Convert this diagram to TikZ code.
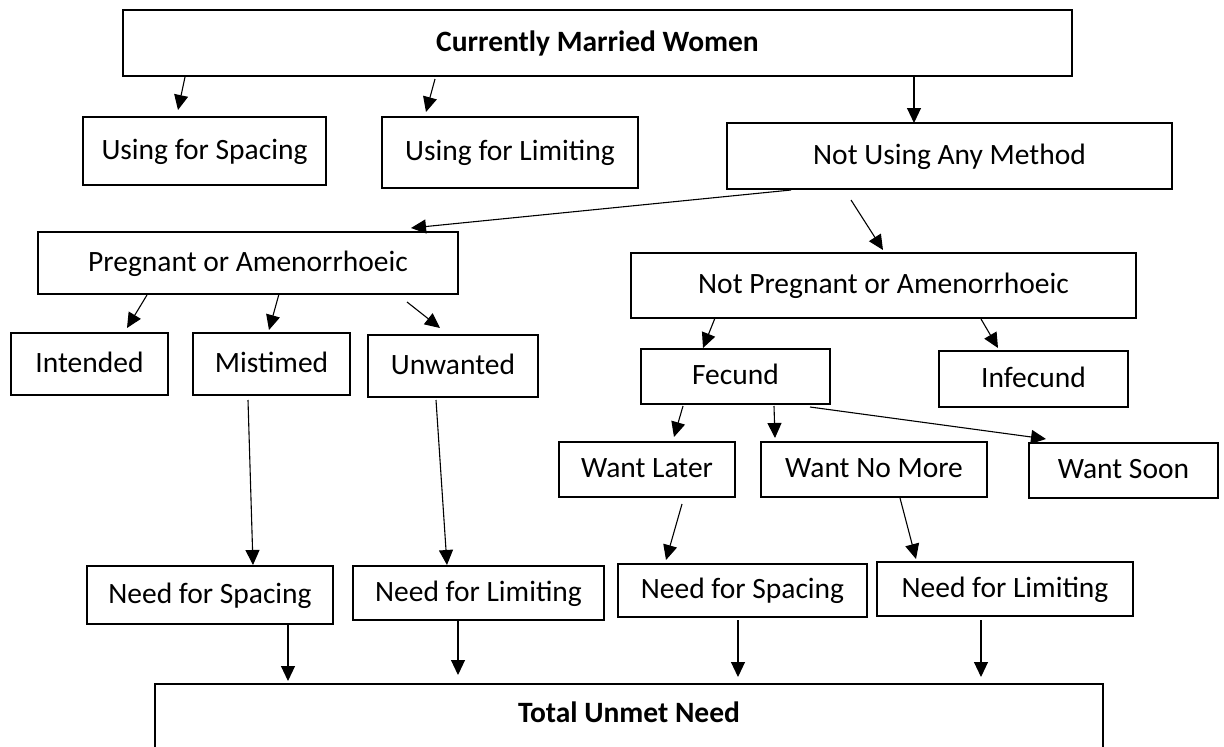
\documentclass[tikz,border=0pt]{standalone}
\usepackage{fontspec}
\setmainfont{Carlito}
\usetikzlibrary{arrows.meta}
\begin{document}
\begin{tikzpicture}[x=1pt,y=-1pt,
  bx/.style={draw=black, line width=1.2pt, rectangle, inner sep=0pt, outer sep=0pt,
    font=\fontsize{29.5}{35}\selectfont, text height=22pt, text depth=6pt},
  bxthick/.style={bx, line width=2.4pt},
  sz/.style 2 args={minimum width=#1pt, minimum height=#2pt},
  arr/.style={draw=black, line width=1.1pt, -{Triangle[length=15pt,width=14pt]}}]
\useasboundingbox (0,0) rectangle (1224,747);
\clip (0,0) rectangle (1224,747);

% nodes
\node[bx, sz={949}{66}] (top) at (597.5,43) {\bfseries Currently Married Women};
\node[bx, sz={243}{68}] (usp) at (204.5,151) {Using for Spacing};
\node[bx, sz={256}{71}] (ulim) at (510,152.5) {Using for Limiting};
\node[bx, sz={445}{66}] (notuse) at (949.5,156) {Not Using Any Method};
\node[bx, sz={420}{62}] (preg) at (248,263) {Pregnant or Amenorrhoeic};
\node[bx, sz={505}{65}] (notpreg) at (883.5,285.5) {Not Pregnant or Amenorrhoeic};
\node[bx, sz={157}{62}] (intended) at (89.5,364) {Intended};
\node[bx, sz={157}{62}] (mistimed) at (271.5,364) {Mistimed};
\node[bx, sz={170}{62}] (unwanted) at (453,366) {Unwanted};
\node[bxthick, sz={189}{55}] (fecund) at (735.5,376.5) {Fecund};
\node[bxthick, sz={189}{56}] (infecund) at (1033.5,379) {Infecund};
\node[bxthick, sz={176}{55}] (wlater) at (647,469.5) {Want Later};
\node[bxthick, sz={226}{55}] (wnomore) at (874,469.5) {Want No More};
\node[bxthick, sz={189}{55}] (wsoon) at (1123.5,470.5) {Want Soon};
\node[bx, sz={246}{58}] (nsl) at (210,595) {Need for Spacing};
\node[bx, sz={251}{54}] (nll) at (478.5,593) {Need for Limiting};
\node[bx, sz={249}{53}] (nsr) at (742.5,590.5) {Need for Spacing};
\node[bx, sz={256}{54}] (nlr) at (1005,589) {Need for Limiting};
\node[bx, sz={948}{80}] (total) at (629,724) {\raisebox{10pt}[\height][\depth]{\bfseries Total Unmet Need}};

% connectors
\draw[arr] ([shift={(62,1)}]top.south west) -- ([shift={(95,-7)}]usp.north west);
\draw[arr] ([shift={(312,3)}]top.south west) -- ([shift={(44,-5)}]ulim.north west);
\draw[arr] ([shift={(791,0)}]top.south west) -- ([shift={(187,0)}]notuse.north west);
\draw[arr] ([shift={(64,1)}]notuse.south west) -- ([shift={(373,-4)}]preg.north west);
\draw[arr] ([shift={(124,11)}]notuse.south west) -- ([shift={(252,-3)}]notpreg.north west);
\draw[arr] ([shift={(109,1)}]preg.south west) -- ([shift={(116,-5)}]intended.north west);
\draw[arr] ([shift={(241,0)}]preg.south west) -- ([shift={(76,-3)}]mistimed.north west);
\draw[arr] ([shift={(369,8)}]preg.south west) -- ([shift={(72,-7)}]unwanted.north west);
\draw[arr] ([shift={(84,0)}]notpreg.south west) -- ([shift={(62,-1)}]fecund.north west);
\draw[arr] ([shift={(350,1)}]notpreg.south west) -- ([shift={(59,-3)}]infecund.north west);
\draw[arr] ([shift={(42,2)}]fecund.south west) -- ([shift={(115,-5)}]wlater.north west);
\draw[arr] ([shift={(133,2)}]fecund.south west) -- ([shift={(14,-4)}]wnomore.north west);
\draw[arr] ([shift={(169,3)}]fecund.south west) -- ([shift={(17,-4)}]wsoon.north west);
\draw[arr] ([shift={(55,5)}]mistimed.south west) -- ([shift={(43,-1)}]nsl.north);
\draw[arr] ([shift={(68,3)}]unwanted.south west) -- ([shift={(94,-1)}]nll.north west);
\draw[arr] ([shift={(123,7)}]wlater.south west) -- ([shift={(48,-4)}]nsr.north west);
\draw[arr] ([shift={(139,1)}]wnomore.south west) -- ([shift={(39,-3)}]nlr.north west);
\draw[arr] ([shift={(201,0)}]nsl.south west) -- ([shift={(133,-3)}]total.north west);
\draw[arr] ([shift={(105,0)}]nll.south west) -- ([shift={(303,-9)}]total.north west);
\draw[arr] ([shift={(120,3)}]nsr.south west) -- ([shift={(583,-7)}]total.north west);
\draw[arr] ([shift={(104,4)}]nlr.south west) -- ([shift={(826,-7)}]total.north west);
\end{tikzpicture}
\end{document}
